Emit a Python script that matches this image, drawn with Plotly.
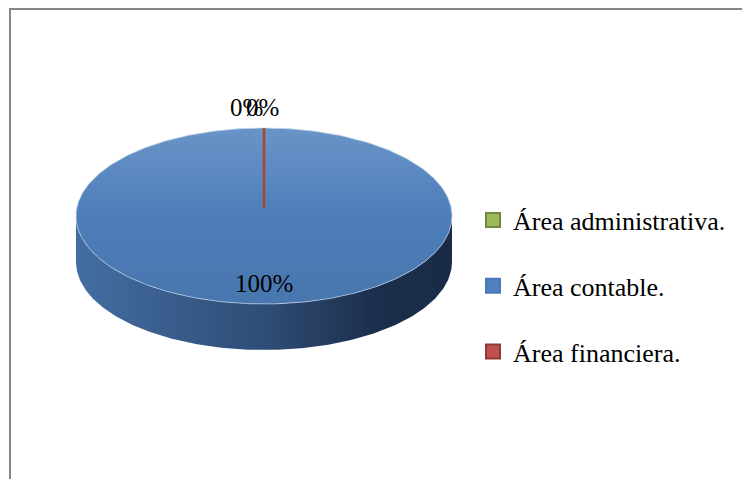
import numpy as np
import plotly.graph_objects as go

# ---- data ----
categories = ["Área administrativa.", "Área contable.", "Área financiera."]
values = [0, 100, 0]
slice_colors = ["#9BBB59", "#4F81BD", "#C0504D"]
legend_border = ["#71893F", "#4A7AB5", "#8E3A37"]

# ---- geometry / style (layout parameters, not data) ----
W, H = 742, 479
CX, CY, RX, RY, DEPTH = 264, 216, 188, 88, 46
FONT = "Liberation Serif, Times New Roman, serif"
NAVY = (20, 35, 60)
WHITE = (255, 255, 255)


def hex2rgb(h):
    h = h.lstrip("#")
    return tuple(int(h[i:i + 2], 16) for i in (0, 2, 4))


def mix(c, other, t):
    # t = share of c
    r = tuple(int(round(a * t + b * (1 - t))) for a, b in zip(c, other))
    return "rgb(%d,%d,%d)" % r


def pt(theta_deg, r=1.0, dy=0.0):
    th = np.radians(theta_deg)
    return CX + r * RX * np.sin(th), CY - r * RY * np.cos(th) + dy


total = float(sum(values))
fracs = [v / total for v in values]
starts = np.concatenate([[0.0], np.cumsum(fracs)[:-1]]) * 360
ends = np.cumsum(fracs) * 360

fig = go.Figure()

# ---- side walls (front half: 90..270 deg) ----
for a0, a1, col in zip(starts, ends, slice_colors):
    lo, hi = max(a0, 90.0), min(a1, 270.0)
    if hi - lo <= 0:
        continue
    c = hex2rgb(col)
    th = np.linspace(lo, hi, 200)
    xt, yt = pt(th)
    xb, yb = pt(th[::-1], dy=DEPTH)
    xs = np.concatenate([xt, xb, [xt[0]]])
    ys = np.concatenate([yt, yb, [yt[0]]])
    fig.add_trace(go.Scatter(
        x=xs, y=ys, mode="lines", fill="toself", line=dict(width=0),
        fillgradient=dict(type="horizontal", start=CX - RX, stop=CX + RX,
                          colorscale=[[0, mix(c, NAVY, 0.80)], [0.5, mix(c, NAVY, 0.45)],
                                      [0.8, mix(c, NAVY, 0.12)], [1, mix(c, NAVY, 0.08)]]),
        hoverinfo="skip", showlegend=False))

# ---- top faces ----
for a0, a1, col in zip(starts, ends, slice_colors):
    if a1 - a0 <= 0:
        continue
    c = hex2rgb(col)
    th = np.linspace(a0, a1, 361)
    xa, ya = pt(th)
    if a1 - a0 >= 359.999:
        xs, ys = xa, ya
    else:
        xs = np.concatenate([[CX], xa, [CX]])
        ys = np.concatenate([[CY], ya, [CY]])
    fig.add_trace(go.Scatter(
        x=xs, y=ys, mode="lines", fill="toself", line=dict(width=0),
        fillgradient=dict(type="vertical", start=CY - RY, stop=CY + RY,
                          colorscale=[[0, mix(c, WHITE, 0.85)], [0.5, mix(c, NAVY, 0.97)],
                                      [1, mix(c, NAVY, 0.88)]]),
        hoverinfo="skip", showlegend=False))

# rim highlight
th = np.linspace(0, 360, 361)
xr, yr = pt(th)
fig.add_trace(go.Scatter(x=xr, y=yr, mode="lines",
                         line=dict(color="rgba(190,210,235,0.7)", width=1),
                         hoverinfo="skip", showlegend=False))

# zero-width slices drawn as spokes
for a0, a1, col in zip(starts, ends, slice_colors):
    if a1 - a0 > 0:
        continue
    xe, ye = pt(a0)
    fig.add_trace(go.Scatter(x=[CX, xe], y=[CY - 8, ye], mode="lines",
                             line=dict(color=mix(hex2rgb(col), (0, 0, 0), 0.85), width=2.5),
                             hoverinfo="skip", showlegend=False))

# ---- percentage labels ----
label_shift = [-18, 0, -2]
for i, (a0, a1, f) in enumerate(zip(starts, ends, fracs)):
    mid = (a0 + a1) / 2
    r = 1.23 if f < 0.05 else 0.77
    x, y = pt(mid, r=r)
    fig.add_annotation(x=x, y=y, text="%d%%" % round(f * 100), showarrow=False,
                       xshift=label_shift[i],
                       font=dict(family=FONT, size=25, color="black"))

# ---- legend entries ----
for cat, col, bcol in zip(categories, slice_colors, legend_border):
    fig.add_trace(go.Scatter(
        x=[None], y=[None], mode="markers", name=cat, legendgroup=cat,
        marker=dict(symbol="square", size=14, color=col, line=dict(color=bcol, width=2))))

fig.update_layout(
    width=W, height=H, margin=dict(l=0, r=0, t=0, b=0),
    paper_bgcolor="white", plot_bgcolor="white",
    xaxis=dict(range=[0, W], visible=False, fixedrange=True),
    yaxis=dict(range=[H, 0], visible=False, fixedrange=True),
    showlegend=True,
    legend=dict(x=473 / W, xanchor="left", y=1 - 286 / H, yanchor="middle",
                font=dict(family=FONT, size=26, color="black"),
                tracegroupgap=29, bgcolor="rgba(0,0,0,0)", itemclick=False),
    shapes=[dict(type="rect", xref="paper", yref="paper",
                 x0=10 / W, x1=1.05, y0=-0.05, y1=1 - 9 / H,
                 line=dict(color="#868686", width=2))],
    hovermode=False,
)

fig.write_html("out.html", config={"displayModeBar": False},
               post_script="document.body.style.margin='0';document.body.style.overflow='hidden';")
